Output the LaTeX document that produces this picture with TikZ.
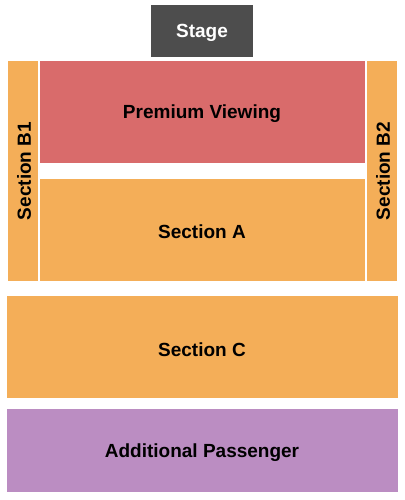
\documentclass[tikz,border=0pt]{standalone}
\usepackage{fontspec}
\setmainfont{Liberation Sans}
\definecolor{stagec}{HTML}{4D4D4D}
\definecolor{premc}{HTML}{D96B6B}
\definecolor{orc}{HTML}{F4AE58}
\definecolor{purc}{HTML}{BB8DC2}
\tikzset{
  lbl/.style={font=\fontsize{19}{21}\selectfont\bfseries, text=black, inner sep=0pt},
}
\begin{document}
\begin{tikzpicture}[x=1pt,y=-1pt]
\useasboundingbox[fill=white] (0,0) rectangle (404,500);
\fill[stagec] (151,5) rectangle (253,57);
\fill[premc] (40,61) rectangle (365,163);
\fill[orc] (40,179) rectangle (365,281);
\fill[orc] (8,61) rectangle (38,281);
\fill[orc] (367,61) rectangle (397,281);
\fill[orc] (7,296) rectangle (398,398);
\fill[purc] (7,409) rectangle (398,492);
\node[lbl, text=white] (stage) at (202,33) {Stage};
\node[lbl] (prem) at (202,114) {Premium Viewing};
\node[lbl] (secA) at (202,232) {Section A};
\node[lbl, rotate=90] (secB1) at (24,171) {Section B1};
\node[lbl, rotate=90] (secB2) at (383,171) {Section B2};
\node[lbl] (secC) at (202,350) {Section C};
\node[lbl] (addp) at (202,453) {Additional Passenger};
\end{tikzpicture}
\end{document}
